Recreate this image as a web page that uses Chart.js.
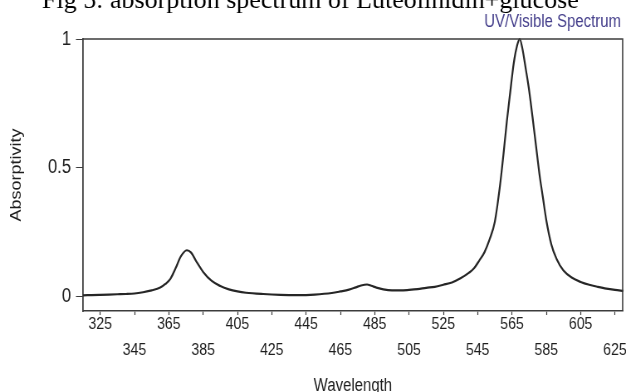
<!DOCTYPE html>
<html>
<head>
<meta charset="utf-8">
<script src="https://cdn.jsdelivr.net/npm/chart.js@4.4.1/dist/chart.umd.min.js"></script>
<style>
    html, body { margin: 0; padding: 0; background: #fff; overflow: hidden; }
    /* the original picture is squeezed sideways, so draw wider and squeeze it back */
    #wrap { width: 754px; height: 392px; transform: scaleX(0.8302); transform-origin: 0 0; }
</style>
</head>
<body>
<div id="wrap"><canvas id="spectrum" width="754" height="392"></canvas></div>
<script>
const wavelengths = [
    315, 320, 325, 330, 335, 340, 345, 350, 355, 360, 363, 366, 369, 372, 375.5, 378, 381, 385, 390, 395,
    400, 405, 410, 420, 430, 440, 450, 460, 465, 470, 474, 477, 480.5, 483, 486, 490, 495, 500, 505, 510,
    515, 520, 525, 530, 535, 540, 543, 546, 549, 552, 555, 558, 560, 562, 564, 566, 568, 569.5, 571, 573,
    575, 577, 579, 581, 583, 585, 588, 591, 595, 600, 605, 610, 615, 620, 625, 630
];
const absorbance = [
    0.004, 0.005, 0.006, 0.007, 0.008, 0.009, 0.011, 0.016, 0.023, 0.034, 0.048, 0.069, 0.110, 0.155, 0.179, 0.170, 0.136, 0.095, 0.060, 0.040,
    0.027, 0.019, 0.014, 0.009, 0.006, 0.005, 0.007, 0.013, 0.019, 0.026, 0.035, 0.042, 0.046, 0.041, 0.034, 0.027, 0.023, 0.023, 0.025, 0.028,
    0.033, 0.037, 0.045, 0.054, 0.070, 0.092, 0.110, 0.140, 0.172, 0.222, 0.290, 0.430, 0.550, 0.680, 0.795, 0.905, 0.975, 1.0, 0.965, 0.885,
    0.800, 0.695, 0.585, 0.475, 0.385, 0.296, 0.200, 0.145, 0.100, 0.072, 0.056, 0.045, 0.037, 0.030, 0.025, 0.021
];
const xTickValues = [325, 345, 365, 385, 405, 425, 445, 465, 485, 505, 525, 545, 565, 585, 605, 625];
const yTickValues = [0, 0.5, 1];
const yTickLabels = ['0', '0.5', '1'];

const chartTitle = 'Fig 5: absorption spectrum of Luteolinidin+glucose';
const subTitle = 'UV/Visible Spectrum';
const xTitle = 'Wavelength';
const yTitle = 'Absorptivity';

const squeeze = 0.8302;
const sans = "'Liberation Sans', Arial, sans-serif";
const frameColor = '#3c3c3c';

const framePlugin = {
    id: 'frame',
    afterDatasetsDraw(chart) {
        const { ctx, chartArea: { left, top, right, bottom } } = chart;
        ctx.save();
        ctx.strokeStyle = frameColor;
        ctx.lineWidth = 1.6;
        ctx.beginPath();
        ctx.moveTo(left, top);
        ctx.lineTo(right, top);
        ctx.lineTo(right, bottom);
        ctx.stroke();
        ctx.restore();
    },
    afterDraw(chart) {
        const { ctx } = chart;
        ctx.save();
        ctx.fillStyle = '#46408c';
        ctx.font = '18px ' + sans;
        ctx.textAlign = 'right';
        ctx.fillText(subTitle, 748, 27);
        // the caption above was not squeezed
        ctx.scale(1 / squeeze, 1);
        ctx.fillStyle = '#000';
        ctx.font = "26px 'Liberation Serif', 'Times New Roman', serif";
        ctx.textAlign = 'left';
        ctx.fillText(chartTitle, 42, 8);
        ctx.restore();
    },
};

new Chart(document.getElementById('spectrum'), {
    type: 'line',
    data: {
        datasets: [{
            data: wavelengths.map((w, i) => ({ x: w, y: absorbance[i] })),
            borderColor: '#262626',
            borderWidth: 2.2,
            pointRadius: 0,
            cubicInterpolationMode: 'monotone',
            clip: 4,
        }],
    },
    options: {
        responsive: false,
        animation: false,
        devicePixelRatio: 1,
        layout: {
            autoPadding: false,
            padding: { left: 0, top: 39, right: 4, bottom: 0 },
        },
        plugins: {
            legend: { display: false },
            tooltip: { enabled: false },
        },
        scales: {
            x: {
                type: 'linear',
                min: 315,
                max: 629.5,
                afterBuildTicks: scale => {
                    scale.ticks = xTickValues.map(v => ({ value: v }));
                },
                afterFit: scale => { scale.height = 81; },
                grid: { drawOnChartArea: false, tickLength: 4, tickColor: frameColor, tickWidth: 1.2 },
                border: { display: true, color: frameColor, width: 1.6 },
                ticks: {
                    autoSkip: false,
                    maxRotation: 0,
                    padding: -4.25,
                    color: '#1e1e1e',
                    font: { family: sans, size: 17, lineHeight: '26.5px' },
                    callback: value => {
                        const idx = xTickValues.indexOf(value);
                        return idx % 2 === 0 ? [String(value), ''] : ['', String(value)];
                    },
                },
                title: {
                    display: true,
                    text: xTitle,
                    color: '#1e1e1e',
                    font: { family: sans, size: 18 },
                    padding: { top: 0, bottom: -4.5 },
                },
            },
            y: {
                min: -0.057,
                max: 1,
                afterBuildTicks: scale => {
                    scale.ticks = yTickValues.map(v => ({ value: v }));
                },
                afterFit: scale => { scale.width = 100; },
                grid: { drawOnChartArea: false, tickLength: 8.5, tickColor: frameColor, tickWidth: 1 },
                border: { display: true, color: frameColor, width: 1.8 },
                ticks: {
                    padding: 6,
                    color: '#1e1e1e',
                    font: { family: sans, size: 20 },
                    callback: value => yTickLabels[yTickValues.indexOf(value)],
                },
                title: {
                    display: true,
                    text: yTitle,
                    color: '#1e1e1e',
                    font: { family: sans, size: 18 },
                    padding: { top: 9, bottom: 0 },
                },
            },
        },
    },
    plugins: [framePlugin],
});
</script>
</body>
</html>
